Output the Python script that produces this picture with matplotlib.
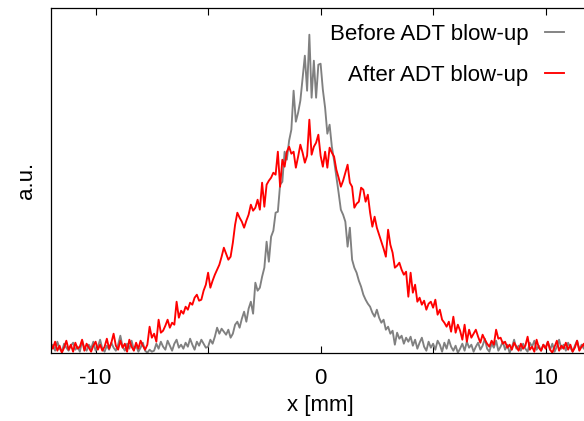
import numpy as np
import matplotlib
matplotlib.use("Agg")
import matplotlib.pyplot as plt

plt.rcParams['font.family'] = ['Liberation Sans', 'DejaVu Sans']
plt.rcParams['axes.unicode_minus'] = False

# beam profile, x in mm (0.1 mm steps from -12 to 12), heights in a.u.
x_mm = np.round(np.arange(-120, 121) / 10.0, 1)

before_adt = [
    3, 8, 2, 11, 4, 1, 9, 5, 2, 7,
    10, 3, 6, 1, 12, 5, 2, 8, 4, 11,
    2, 6, 13, 4, 1, 7, 3, 10, 5, 2,
    8, 17, 6, 2, 9, 4, 12, 3, 7, 1,
    5, 10, 2, 0, 3, 1, 2, 9, 4, 11,
    6, 3, 12, 7, 2, 9, 13, 5, 8, 4,
    10, 6, 14, 8, 3, 11, 7, 13, 9, 5,
    6, 13, 9, 16, 25, 19, 24, 21, 18, 23,
    15, 19, 28, 31, 25, 34, 41, 31, 44, 51,
    39, 70, 62, 65, 76, 85, 111, 91, 116, 122,
    140, 141, 168, 171, 201, 193, 212, 223, 262, 231,
    240, 252, 275, 297, 262, 318, 255, 292, 255, 288,
    289, 263, 245, 219, 228, 206, 192, 176, 160, 143,
    138, 131, 106, 125, 93, 85, 80, 72, 66, 58,
    53, 49, 46, 40, 36, 43, 35, 30, 33, 23,
    26, 19, 22, 8, 20, 14, 17, 9, 15, 11,
    16, 7, 13, 4, 10, 15, 6, 2, 11, 5,
    9, 3, 12, 8, 1, 10, 4, 13, 6, 2,
    7, 0, 4, 9, 2, 11, 5, 8, 1, 6,
    10, 3, 7, 14, 4, 1, 9, 5, 12, 2,
    6, 11, 3, 8, 0, 5, 13, 4, 7, 2,
    9, 4, 1, 10, 6, 12, 3, 7, 2, 8,
    5, 11, 3, 9, 1, 6, 13, 4, 8, 2,
    10, 5, 1, 7, 12, 3, 8, 4, 11, 6, 2,
]

after_adt = [
    9, 4, 11, 2, 7, 0, 5, 12, 3, 8,
    1, 10, 4, 6, 13, 2, 9, 5, 1, 7,
    11, 3, 8, 2, 6, 14, 4, 10, 19, 7,
    3, 12, 5, 9, 1, 13, 6, 2, 10, 4,
    12, 7, 3, 8, 26, 15, 19, 11, 33, 20,
    22, 27, 33, 25, 30, 28, 51, 35, 42, 39,
    46, 43, 50, 48, 55, 58, 52, 53, 62, 68,
    80, 65, 72, 78, 83, 88, 96, 105, 99, 93,
    96, 110, 128, 140, 135, 131, 125, 132, 138, 148,
    142, 145, 153, 143, 170, 146, 168, 172, 175, 180,
    178, 201, 166, 193, 186, 201, 206, 199, 201, 185,
    196, 208, 200, 190, 197, 233, 198, 206, 210, 218,
    197, 186, 201, 185, 205, 200, 196, 183, 175, 166,
    172, 180, 188, 170, 166, 145, 149, 151, 165, 163,
    151, 158, 140, 126, 136, 125, 118, 111, 104, 96,
    123, 108, 100, 85, 87, 90, 83, 78, 81, 56,
    80, 60, 68, 51, 55, 48, 52, 43, 49, 51,
    45, 53, 38, 43, 33, 30, 26, 31, 21, 36,
    20, 28, 22, 13, 28, 11, 23, 15, 19, 23,
    16, 10, 18, 13, 9, 6, 12, 8, 23, 14,
    15, 9, 11, 5, 8, 3, 10, 6, 2, 9,
    4, 7, 16, 3, 6, 1, 13, 5, 2, 8,
    4, 11, 3, 0, 6, 12, 2, 7, 4, 10,
    3, 8, 1, 5, 12, 2, 6, 9, 0, 4, 7,
]

fig = plt.figure(figsize=(5.84, 4.21), dpi=100)
# plot box runs a little past the right edge, as in the original
ax = fig.add_axes([50.6 / 584, 68.3 / 421, 540 / 584, 344.4 / 421])

ax.plot(x_mm, before_adt, color='#808080', lw=1.35, label='Before ADT blow-up')
ax.plot(x_mm, after_adt, color='#ff0000', lw=1.35, label='After ADT blow-up')

ax.set_xlim(-12, 12)
ax.set_ylim(0, 344.4)
ax.set_xticks([-10, 0, 10])
ax.set_xticks([-5, 5], minor=True)
ax.set_yticks([])
ax.tick_params(axis='x', which='both', direction='in', top=True, length=5,
               width=0.8, labelsize=16, pad=11)
for s in ax.spines.values():
    s.set_linewidth(0.9)

ax.set_xlabel('x [mm]', fontsize=16, labelpad=4)
ax.set_ylabel('a.u.', fontsize=16, labelpad=10)

ax.legend(loc='upper right', bbox_to_anchor=(564 / 584, 1 - 24 / 421),
          bbox_transform=fig.transFigure, frameon=False, markerfirst=False,
          fontsize=16, handlelength=0.85, handletextpad=0.75, labelspacing=0.9,
          borderpad=0, borderaxespad=0)

fig.savefig('out.png', dpi=100)
